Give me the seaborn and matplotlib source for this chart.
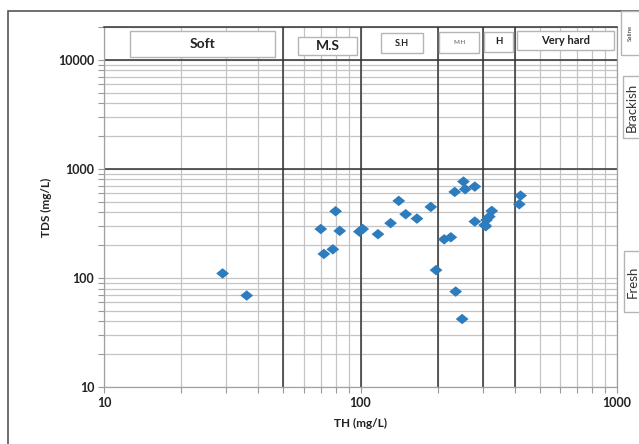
import matplotlib.pyplot as plt
import matplotlib.ticker as mticker
import pandas as pd
import seaborn as sns
from matplotlib.patches import Rectangle

# sample values
th = [29, 36, 70, 72, 78, 80, 83, 99, 102, 117, 131, 141, 150, 166, 188,
      197, 212, 225, 233, 235, 249, 252, 256, 279, 279, 305, 310, 318, 325,
      308, 416, 421]
tds = [110, 69, 281, 166, 183, 409, 270, 266, 281, 252, 318, 509, 384, 350,
       448, 118, 226, 236, 615, 75, 42, 765, 651, 688, 329, 306, 340, 365, 412,
       298, 474, 569]

# class limits
hardness_limits = [50, 100, 200, 300, 400]
salinity_limits = [1000, 10000]
hardness_labels = ["Soft", "M.S", "S.H", "M.H", "H", "Very hard"]
salinity_labels = ["Saline", "Brackish", "Fresh"]

W, H = 639, 444

sns.set_style("white")
plt.rcParams["font.family"] = ["Lato", "DejaVu Sans"]

df = pd.DataFrame({"TH": th, "TDS": tds})

fig = plt.figure(figsize=(W / 100, H / 100), dpi=100)
ax = fig.add_axes([104 / W, 1 - 387 / H, 513 / W, 360 / H])

ax.set_xscale("log")
ax.set_yscale("log")
ax.set_xlim(10, 1000)
ax.set_ylim(10, 20000)

ax.grid(which="both", color="#c4c4c4", lw=0.9, zorder=0)
for lim in hardness_limits:
    ax.axvline(lim, color="#333333", lw=1.1, zorder=1)
for lim in salinity_limits:
    ax.axhline(lim, color="#333333", lw=1.1, zorder=1)

diamond = [(-1, 0), (0, 0.82), (1, 0), (0, -0.82), (-1, 0)]
sns.scatterplot(data=df, x="TH", y="TDS", marker=diamond, s=85,
                color="#2d7cbd", edgecolor="none", ax=ax, zorder=3)

ax.xaxis.set_major_formatter(mticker.FuncFormatter(lambda v, p: f"{v:g}"))
ax.yaxis.set_major_formatter(mticker.FuncFormatter(lambda v, p: f"{v:g}"))
ax.xaxis.set_minor_formatter(mticker.NullFormatter())
ax.yaxis.set_minor_formatter(mticker.NullFormatter())
ax.tick_params(which="both", direction="out", length=4, width=0.8,
               color="#999999", left=True, bottom=True, pad=3)
for lbl in ax.get_xticklabels() + ax.get_yticklabels():
    lbl.set_fontsize(9)
    lbl.set_fontweight("bold")
    lbl.set_color("#222222")

ax.set_xlabel("TH (mg/L)", fontsize=8.5, fontweight="bold", color="#222222", labelpad=7)
ax.set_ylabel("TDS (mg/L)", fontsize=8.5, fontweight="bold", color="#222222", labelpad=4)

for side in ["left", "bottom", "right"]:
    ax.spines[side].set_color("#a0a0a0")
    ax.spines[side].set_linewidth(0.9)
ax.spines["top"].set_color("#333333")
ax.spines["top"].set_linewidth(1.1)

# outer frame
fig.add_artist(Rectangle((8 / W, 1 - 470 / H), 700 / W, 459 / H,
                         transform=fig.transFigure, fill=False,
                         ec="#555555", lw=1.2, clip_on=False))

# class label boxes: (left, top, right, bottom) in pixels, fontsize, weight, rotation
boxes = [
    ((130, 31, 275, 57), 10, "bold", 0, "#222222"),
    ((298, 37, 357, 55), 10, "bold", 0, "#222222"),
    ((381, 33, 423, 53), 6.5, "bold", 0, "#222222"),
    ((439, 32, 479, 53), 4.5, "normal", 0, "#555555"),
    ((484, 32, 513, 52), 7, "bold", 0, "#222222"),
    ((517, 31, 614, 50), 8, "bold", 0, "#222222"),
]
side_boxes = [
    ((621, 11, 660, 55), 4.5, "normal", 90, "#333333"),
    ((623, 76, 660, 138), 9.5, "normal", 90, "#333333"),
    ((624, 251, 660, 312), 9.5, "normal", 90, "#333333"),
]
for label, ((l, t, r, b), fs, fw, rot, col) in zip(hardness_labels + salinity_labels,
                                                    boxes + side_boxes):
    fig.add_artist(Rectangle((l / W, 1 - b / H), (r - l) / W, (b - t) / H,
                             transform=fig.transFigure, fc="white",
                             ec="#b5b5b5", lw=1.0, zorder=5))
    cx = (l + r) / 2 if rot == 0 else l + 9
    fig.text(cx / W, 1 - (t + b) / 2 / H, label, ha="center", va="center",
             fontsize=fs, fontweight=fw, rotation=rot, color=col, zorder=6)

fig.savefig("out.png", dpi=100)
plt.close(fig)
